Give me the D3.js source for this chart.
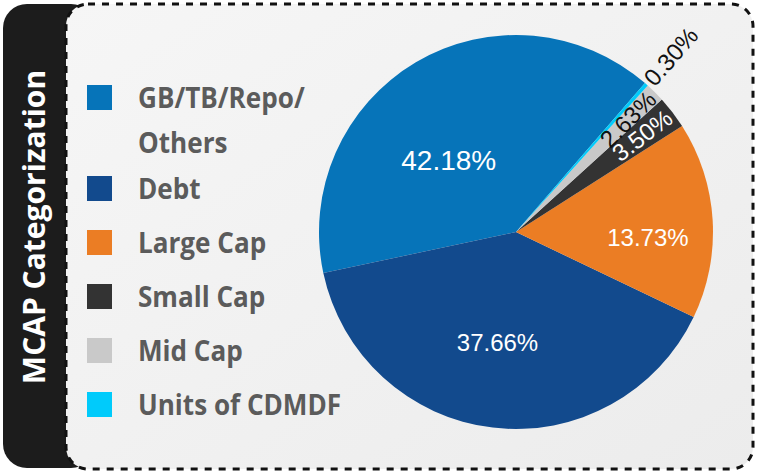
<!DOCTYPE html>
<html>
<head>
<meta charset="utf-8">
<script src="https://cdn.jsdelivr.net/npm/d3@7"></script>
<style>
  html, body { margin: 0; padding: 0; background: #fff; }
  svg { display: block; }
</style>
</head>
<body>
<div id="app"></div>
<script>
'use strict'

// categories in legend order (pie runs counter-clockwise in this order)
const categories = ['GB/TB/Repo/ Others', 'Debt', 'Large Cap', 'Small Cap', 'Mid Cap', 'Units of CDMDF']
// legend lines (GB label wraps on two lines)
const legendLines = [['GB/TB/Repo/', 'Others'], ['Debt'], ['Large Cap'], ['Small Cap'], ['Mid Cap'], ['Units of CDMDF']]
// slice sizes as drawn in the picture
const shares = [39.7, 39.55, 16.15, 2.7, 1.6, 0.3]
// printed percentage labels
const labels = ['42.18%', '37.66%', '13.73%', '3.50%', '2.63%', '0.30%']
const colors = ['#0674b9', '#124a8d', '#eb7d24', '#333333', '#c9c9c9', '#00cbfb']
const title = 'MCAP Categorization'

const W = 757
const H = 472

const svg = d3.select('#app').append('svg')
  .attr('width', W)
  .attr('height', H)

const defs = svg.append('defs')
const grad = defs.append('linearGradient')
  .attr('id', 'bg')
  .attr('x1', 0).attr('y1', 0).attr('x2', 1).attr('y2', 1)
grad.append('stop').attr('offset', '0%').attr('stop-color', '#f6f6f6')
grad.append('stop').attr('offset', '60%').attr('stop-color', '#f0f0f0')
grad.append('stop').attr('offset', '100%').attr('stop-color', '#ececec')

/*
 * Black side tab and dashed panel
 */
svg.append('rect')
  .attr('x', 3).attr('y', 4)
  .attr('width', 92).attr('height', 464)
  .attr('rx', 24)
  .style('fill', '#1c1c1c')

svg.append('rect')
  .attr('x', 66).attr('y', 4)
  .attr('width', 687).attr('height', 465)
  .attr('rx', 22)
  .style('fill', 'url(#bg)')
  .style('stroke', '#111')
  .style('stroke-width', 3)
  .style('stroke-dasharray', '7 7')

svg.append('text')
  .attr('transform', 'translate(45, 227) rotate(-90)')
  .attr('text-anchor', 'middle')
  .style('font-family', '"Open Sans", sans-serif')
  .style('font-weight', 700)
  .style('font-size', '30px')
  .style('fill', '#fff')
  .text(title)

/*
 * Legend
 */
const legend = svg.append('g')
let ly = 97.5
categories.forEach((c, i) => {
  const row = legend.append('g').attr('transform', `translate(0, ${ly})`)
  row.append('rect')
    .attr('x', 87).attr('y', -12.5)
    .attr('width', 25).attr('height', 25)
    .style('fill', colors[i])
  legendLines[i].forEach((line, j) => {
    row.append('text')
      .attr('transform', `translate(138, ${j * 45}) scale(0.9, 1)`)
      .attr('dy', '0.36em')
      .style('font-family', '"Open Sans", sans-serif')
      .style('font-weight', 700)
      .style('font-size', '29px')
      .style('fill', '#5b5b5b')
      .text(line)
  })
  ly += 54 + (legendLines[i].length - 1) * 37
})

/*
 * Pie
 */
const R = 197
const cx = 516
const cy = 232
const rad = Math.PI / 180
const start = 40.9 * rad

const pie = d3.pie()
  .sort(null)
  .value(d => d)
  .startAngle(start)
  .endAngle(start - 2 * Math.PI)

const arc = d3.arc().innerRadius(0).outerRadius(R)
const arcs = pie(shares)

const g = svg.append('g').attr('transform', `translate(${cx}, ${cy})`)

g.selectAll('path')
  .data(arcs)
  .enter().append('path')
  .attr('d', arc)
  .style('fill', (d, i) => colors[i])

// placement of the big inside labels: radius (fraction of R) and angle shift (deg)
const labelR = [0.5, 0.57, 0.67]
const labelShift = [-12.5, 2.7, 5.7]
const textColor = ['#fff', '#fff', '#fff', '#fff', '#111', '#111']

const mid = d => (d.startAngle + d.endAngle) / 2

g.selectAll('.lbl')
  .data(arcs)
  .enter().append('text')
  .attr('class', 'lbl')
  .attr('transform', (d, i) => {
    let a = mid(d)
    let r
    if (i < 3) {
      r = labelR[i] * R
      a += labelShift[i] * rad
    } else if (i < 5) r = R - 4
    else r = R + 3
    const x = r * Math.sin(a)
    const y = -r * Math.cos(a)
    if (i < 3) return `translate(${x}, ${y})`
    return `translate(${x}, ${y}) rotate(${a / rad - 90})`
  })
  .attr('text-anchor', (d, i) => i < 3 ? 'middle' : (i < 5 ? 'end' : 'start'))
  .attr('dy', '0.35em')
  .style('font-family', '"Liberation Sans", Arial, sans-serif')
  .style('font-size', (d, i) => i === 0 ? '28px' : '24px')
  .style('fill', (d, i) => textColor[i])
  .text((d, i) => labels[i])
</script>
</body>
</html>
